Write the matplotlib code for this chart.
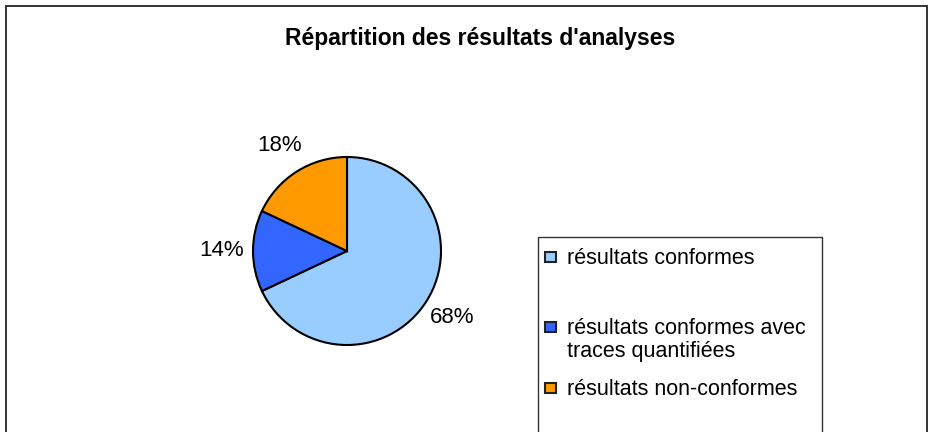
import matplotlib
matplotlib.use("Agg")
import matplotlib.pyplot as plt
from matplotlib.patches import Rectangle

# ---------------------------------------------------------------------------
# Data
# ---------------------------------------------------------------------------
categories = [
    "résultats conformes",
    "résultats conformes avec\ntraces quantifiées",
    "résultats non-conformes",
]
shares = [68, 14, 18]
COLORS = ["#99CCFF", "#3366FF", "#FF9900"]
TITLE = "Répartition des résultats d'analyses"

plt.rcParams["font.family"] = ["Liberation Sans", "DejaVu Sans"]

W, H = 933, 432
fig = plt.figure(figsize=(W / 100, H / 100), dpi=100)
fig.patch.set_facecolor("white")


def px(x, y):
    """pixel coords (top-left origin) -> figure fraction"""
    return x / W, 1 - y / H


# outer chart frame (bottom edge falls outside the image)
fig.add_artist(Rectangle(px(6, 445), (927 - 6) / W, (445 - 6) / H,
                         transform=fig.transFigure, fill=False,
                         edgecolor="#333333", linewidth=1.4))

# title
fig.text(*px(480, 38), TITLE, ha="center", va="center",
         fontsize=16.5, fontweight="bold")

# pie
cx, cy, r = 347, 251, 94
ax = fig.add_axes([(cx - r) / W, (H - cy - r) / H, 2 * r / W, 2 * r / H])
wedges, texts, autotexts = ax.pie(
    shares,
    colors=COLORS,
    startangle=90,
    counterclock=False,
    autopct="%1.0f%%",
    pctdistance=1.33,
    radius=1.0,
    wedgeprops=dict(edgecolor="black", linewidth=1.5),
    textprops=dict(fontsize=16),
)
ax.set_xlim(-1, 1)
ax.set_ylim(-1, 1)
ax.set_aspect("auto")
ax.axis("off")
for t in autotexts:
    t.set_clip_on(False)

# legend frame (bottom edge falls outside the image)
fig.add_artist(Rectangle(px(538, 445), (822 - 538) / W, (445 - 237) / H,
                         transform=fig.transFigure, fill=False,
                         edgecolor="#333333", linewidth=1.0))

entry_y = [257, 327, 388]
for lab, col, y in zip(categories, COLORS, entry_y):
    fig.add_artist(Rectangle(px(545, y + 5), 11 / W, 10 / H,
                             transform=fig.transFigure, facecolor=col,
                             edgecolor="#222222", linewidth=1.5))
    fig.text(*px(567, y - 9), lab, ha="left", va="top",
             fontsize=15.5, linespacing=1.1)

fig.savefig("out.png", dpi=100)
